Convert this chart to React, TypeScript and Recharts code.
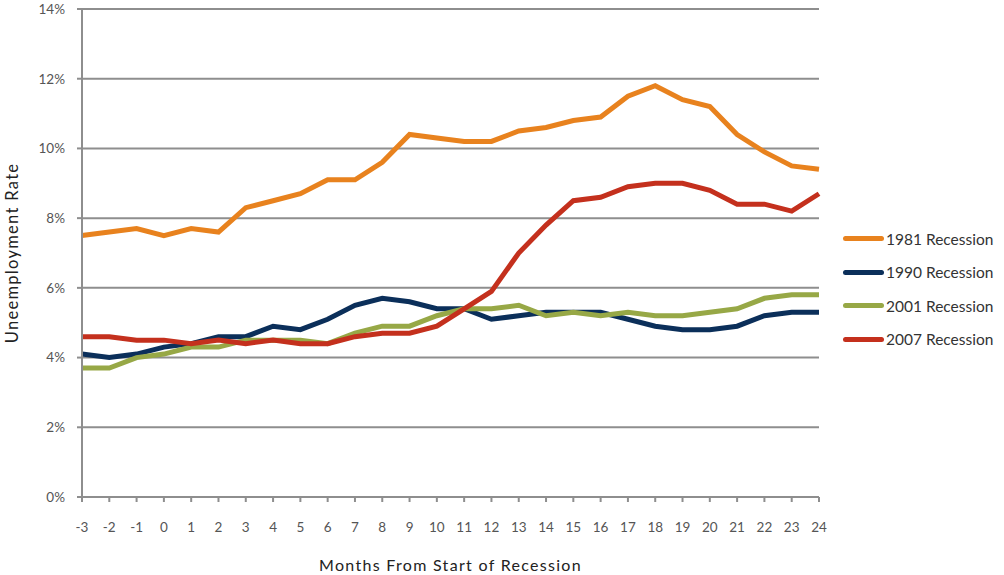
import React from "react";
import { LineChart, Line, XAxis, YAxis, CartesianGrid } from "recharts";

const months = [-3, -2, -1, 0, 1, 2, 3, 4, 5, 6, 7, 8, 9, 10, 11, 12, 13, 14, 15, 16, 17, 18, 19, 20, 21, 22, 23, 24];
const r1981 = [7.5, 7.6, 7.7, 7.5, 7.7, 7.6, 8.3, 8.5, 8.7, 9.1, 9.1, 9.6, 10.4, 10.3, 10.2, 10.2, 10.5, 10.6, 10.8, 10.9, 11.5, 11.8, 11.4, 11.2, 10.4, 9.9, 9.5, 9.4];
const r1990 = [4.1, 4.0, 4.1, 4.3, 4.4, 4.6, 4.6, 4.9, 4.8, 5.1, 5.5, 5.7, 5.6, 5.4, 5.4, 5.1, 5.2, 5.3, 5.3, 5.3, 5.1, 4.9, 4.8, 4.8, 4.9, 5.2, 5.3, 5.3];
const r2001 = [3.7, 3.7, 4.0, 4.1, 4.3, 4.3, 4.5, 4.5, 4.5, 4.4, 4.7, 4.9, 4.9, 5.2, 5.4, 5.4, 5.5, 5.2, 5.3, 5.2, 5.3, 5.2, 5.2, 5.3, 5.4, 5.7, 5.8, 5.8];
const r2007 = [4.6, 4.6, 4.5, 4.5, 4.4, 4.5, 4.4, 4.5, 4.4, 4.4, 4.6, 4.7, 4.7, 4.9, 5.4, 5.9, 7.0, 7.8, 8.5, 8.6, 8.9, 9.0, 9.0, 8.8, 8.4, 8.4, 8.2, 8.7];
const yTicks = [0, 2, 4, 6, 8, 10, 12, 14];

const seriesNames = ["1981 Recession", "1990 Recession", "2001 Recession", "2007 Recession"];
const seriesKeys = ["r1981", "r1990", "r2001", "r2007"];
const seriesColors = ["#E8821E", "#0B2F5A", "#97A846", "#C4301D"];

const data = months.map((m, i) => ({
  month: m,
  r1981: r1981[i],
  r1990: r1990[i],
  r2001: r2001[i],
  r2007: r2007[i],
}));

const FONT = "Lato, 'Open Sans', sans-serif";
const GRID = "#8E8E8E";

export default function App() {
  return (
    <div style={{ position: "absolute", left: 0, top: 0, width: 1004, height: 575, background: "#fff" }}>
      <LineChart width={1004} height={575} data={data} margin={{ top: 9, right: 185, left: 0, bottom: 0 }}>
        <CartesianGrid vertical={false} stroke={GRID} strokeWidth={2} />
        <XAxis
          dataKey="month"
          type="number"
          domain={[-3, 24]}
          ticks={months}
          interval={0}
          height={78}
          axisLine={{ stroke: GRID, strokeWidth: 2 }}
          tickLine={{ stroke: GRID, strokeWidth: 2 }}
          tickSize={5}
          tickMargin={20}
          tick={{ fill: "#555", fontSize: 13.5, fontFamily: FONT }}
          label={{
            content: (props: any) => {
              const vb = props.viewBox;
              return (
                <text x={vb.x + vb.width / 2} y={571} textAnchor="middle" fill="#222" fontSize={16} letterSpacing={1.3} fontFamily={FONT}>
                  Months From Start of Recession
                </text>
              );
            },
          }}
        />
        <YAxis
          type="number"
          domain={[0, 14]}
          ticks={yTicks}
          interval={0}
          width={82}
          axisLine={{ stroke: GRID, strokeWidth: 2 }}
          tickLine={{ stroke: GRID, strokeWidth: 2 }}
          tickSize={5}
          tickMargin={12}
          tickFormatter={(v: number) => `${v}%`}
          tick={{ fill: "#555", fontSize: 13.5, fontFamily: FONT }}
          label={{
            content: (props: any) => {
              const vb = props.viewBox;
              const cy = vb.y + vb.height / 2;
              return (
                <text x={18} y={cy} transform={`rotate(-90 18 ${cy})`} textAnchor="middle" fill="#222" fontSize={16.5} letterSpacing={1.3} fontFamily={FONT}>
                  Uneemployment  Rate
                </text>
              );
            },
          }}
        />
        {seriesKeys.map((k, i) => (
          <Line
            key={k}
            type="linear"
            dataKey={k}
            name={seriesNames[i]}
            stroke={seriesColors[i]}
            strokeWidth={5}
            dot={false}
            activeDot={false}
            isAnimationActive={false}
          />
        ))}
      </LineChart>
      <div style={{ position: "absolute", left: 843, top: 222, fontFamily: FONT }}>
        {seriesNames.map((n, i) => (
          <div key={n} style={{ display: "flex", alignItems: "center", height: 33.5 }}>
            <div style={{ width: 41, height: 5, borderRadius: 3, background: seriesColors[i], marginRight: 2 }} />
            <span style={{ fontSize: 15.5, color: "#333", whiteSpace: "nowrap" }}>{n}</span>
          </div>
        ))}
      </div>
    </div>
  );
}
